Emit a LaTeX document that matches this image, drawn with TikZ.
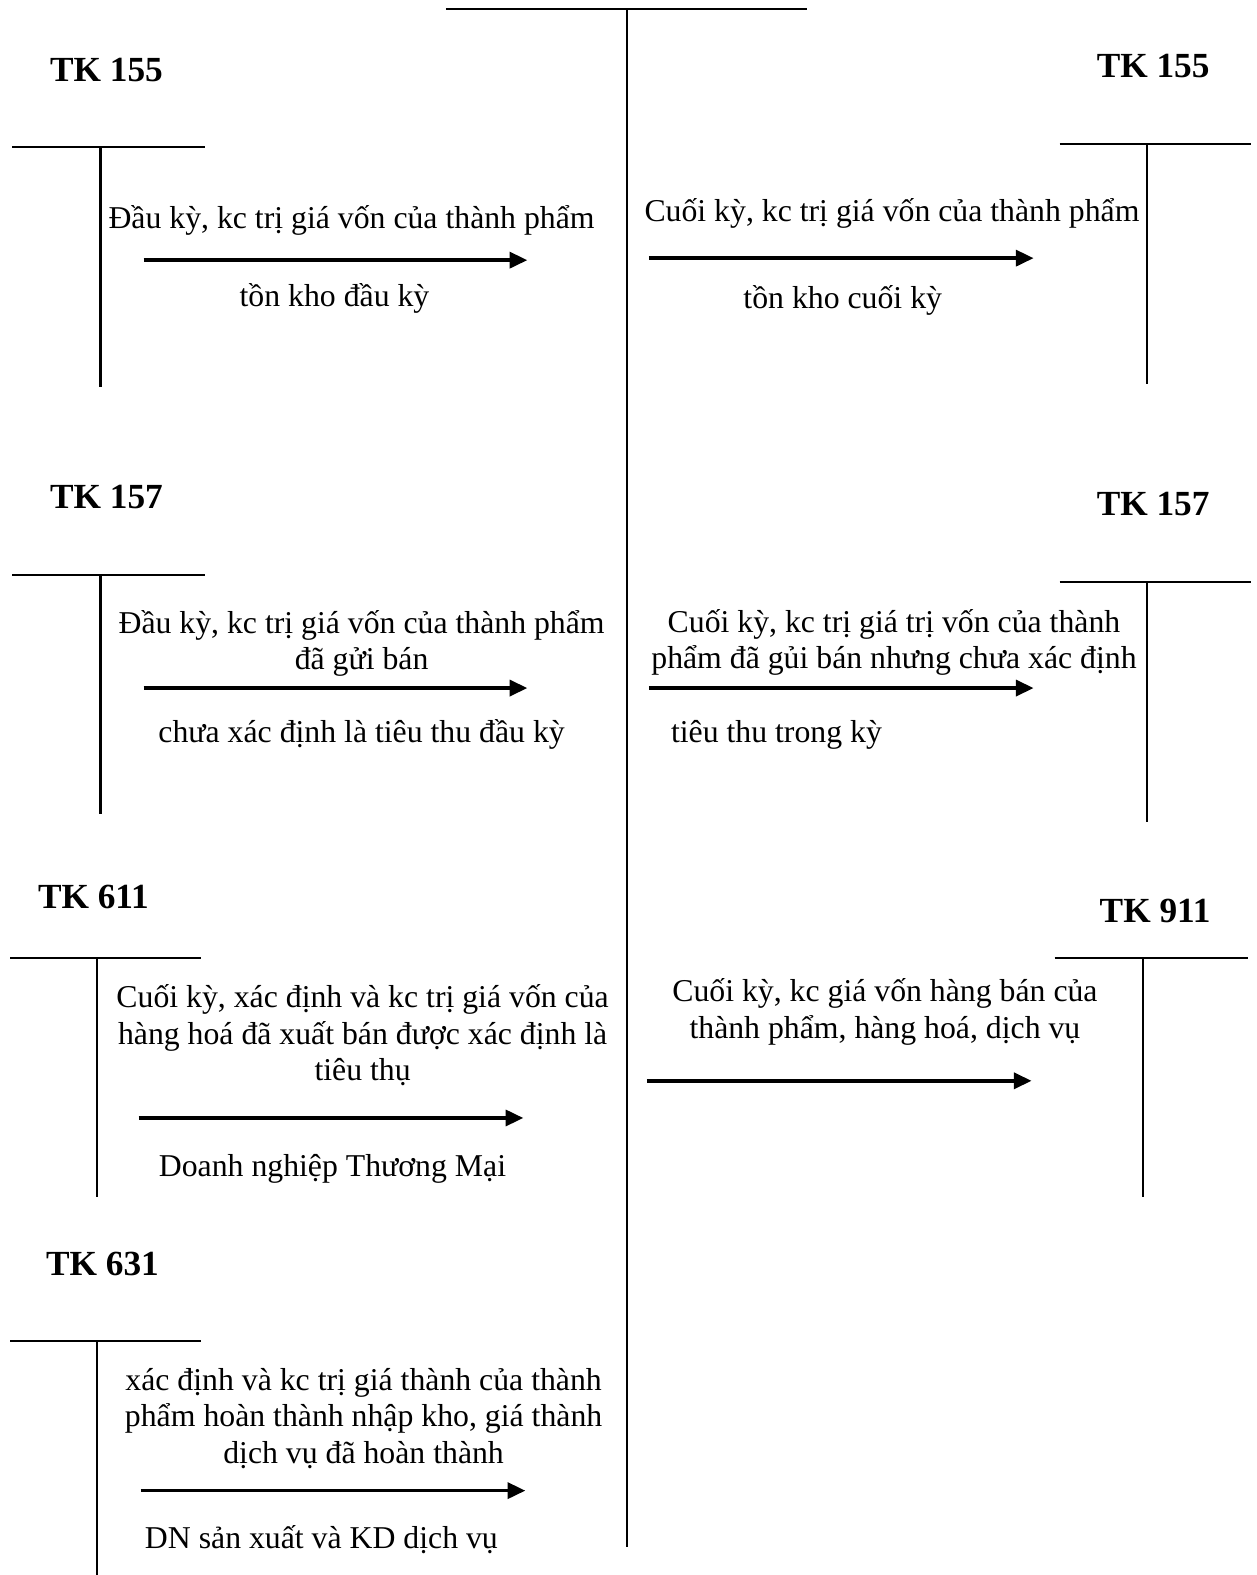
\documentclass[tikz,border=0pt]{standalone}
\usepackage{fontspec}
\setmainfont{Liberation Serif}
\usetikzlibrary{arrows.meta}

\begin{document}
\begin{tikzpicture}[x=0.02cm,y=-0.02cm,
    tk/.style={font=\fontsize{20}{24}\selectfont\bfseries,inner sep=0pt,anchor=base},
    txt/.style={font=\fontsize{18}{20.8}\selectfont,inner sep=0pt,anchor=base,align=center},
    tline/.style={line width=1.2pt},
    flow/.style={line width=2pt,-{Triangle[length=10pt,width=9pt]}}]
    \useasboundingbox (0,0) rectangle (1251,1568);

    % central account
    \draw[tline] (444,9) -- (803,9);
    \draw[tline] (624,9) -- (624,1540);

    % left side: TK 155
    \node[tk] (tk155l) at (106,81) {TK 155};
    \draw[tline] (12,146) -- (204,146);
    \draw[tline] (100,146) -- (100,385);
    \node[txt] (t155la) at (350,227) {Đầu kỳ, kc trị giá vốn của thành phẩm};
    \node[txt] (t155lb) at (333,305) {tồn kho đầu kỳ};
    \coordinate (a155l) at (143,259);
    \coordinate (b155l) at (525,259);
    \draw[flow] (a155l) -- (b155l);

    % left side: TK 157
    \node[tk] (tk157l) at (106,506) {TK 157};
    \draw[tline] (12,572) -- (204,572);
    \draw[tline] (100,572) -- (100,810);
    \node[txt] (t157la) at (360,667) {Đầu kỳ, kc trị giá vốn của thành phẩm\\đã gửi bán};
    \node[txt] (t157lb) at (360,739) {chưa xác định là tiêu thu đầu kỳ};
    \coordinate (a157l) at (143,685);
    \coordinate (b157l) at (525,685);
    \draw[flow] (a157l) -- (b157l);

    % left side: TK 611
    \node[tk] (tk611) at (93,904) {TK 611};
    \draw[tline] (10,954) -- (200,954);
    \draw[tline] (97,954) -- (97,1192);
    \node[txt] (t611a) at (361,1076) {Cuối kỳ, xác định và kc trị giá vốn của\\hàng hoá đã xuất bán được xác định là\\tiêu thụ};
    \node[txt] (t611b) at (331,1171) {Doanh nghiệp Thương Mại};
    \coordinate (a611) at (138,1113);
    \coordinate (b611) at (521,1113);
    \draw[flow] (a611) -- (b611);

    % left side: TK 631
    \node[tk] (tk631) at (102,1270) {TK 631};
    \draw[tline] (10,1335) -- (200,1335);
    \draw[tline] (97,1335) -- (97,1568);
    \node[txt] (t631a) at (362,1457) {xác định và kc trị giá thành của thành\\phẩm hoàn thành nhập kho, giá thành\\dịch vụ đã hoàn thành};
    \node[txt] (t631b) at (320,1542) {DN sản xuất và KD dịch vụ};
    \coordinate (a631) at (140,1484);
    \coordinate (b631) at (523,1484);
    \draw[flow] (a631) -- (b631);

    % right side: TK 155
    \node[tk] (tk155r) at (1148,77) {TK 155};
    \draw[tline] (1055,143) -- (1245,143);
    \draw[tline] (1142,143) -- (1142,382);
    \node[txt] (t155ra) at (888,221) {Cuối kỳ, kc trị giá vốn của thành phẩm};
    \node[txt] (t155rb) at (839,307) {tồn kho cuối kỳ};
    \coordinate (a155r) at (646,257);
    \coordinate (b155r) at (1029,257);
    \draw[flow] (a155r) -- (b155r);

    % right side: TK 157
    \node[tk] (tk157r) at (1148,513) {TK 157};
    \draw[tline] (1055,579) -- (1245,579);
    \draw[tline] (1142,579) -- (1142,818);
    \node[txt] (t157ra) at (890,666) {Cuối kỳ, kc trị giá trị vốn của thành\\phẩm đã gủi bán nhưng chưa xác định};
    \node[txt] (t157rb) at (773,739) {tiêu thu trong kỳ};
    \coordinate (a157r) at (646,685);
    \coordinate (b157r) at (1029,685);
    \draw[flow] (a157r) -- (b157r);

    % right side: TK 911
    \node[tk] (tk911) at (1150,918) {TK 911};
    \draw[tline] (1050,954) -- (1242,954);
    \draw[tline] (1138,954) -- (1138,1192);
    \node[txt] (t911) at (881,1034) {Cuối kỳ, kc giá vốn hàng bán của\\thành phẩm, hàng hoá, dịch vụ};
    \coordinate (a911) at (644,1076);
    \coordinate (b911) at (1027,1076);
    \draw[flow] (a911) -- (b911);
\end{tikzpicture}
\end{document}
